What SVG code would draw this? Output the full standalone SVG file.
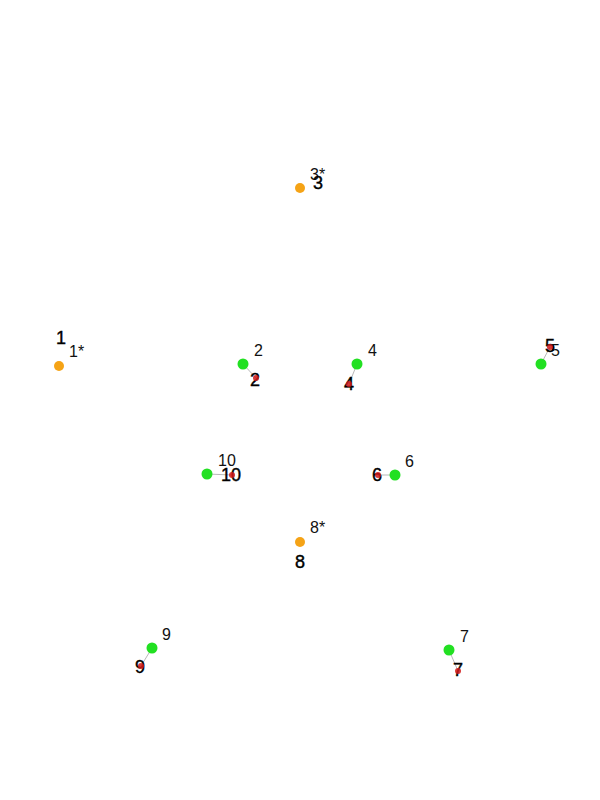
<svg xmlns="http://www.w3.org/2000/svg" width="600" height="800" viewBox="0 0 600 800">
<style>
.bg{fill:#ffffff}
.g{fill:#22e022}
.o{fill:#f5a316}
.r{fill:#d01818;opacity:0.85}
.lk{stroke:#b8b8b8;stroke-width:1;fill:none}
.t{font-family:"Liberation Sans",Arial,sans-serif;font-size:16px;fill:#111}
.b{font-family:"Liberation Sans",Arial,sans-serif;font-size:18px;fill:#000;stroke:#000;stroke-width:0.4;text-anchor:middle}
</style>
<rect class="bg" x="0" y="0" width="600" height="800"/>
<g id="connectors">
<line class="lk" x1="243" y1="364" x2="256" y2="378"/>
<line class="lk" x1="357" y1="364" x2="349" y2="384"/>
<line class="lk" x1="541" y1="364" x2="550" y2="347"/>
<line class="lk" x1="207" y1="474" x2="232" y2="475"/>
<line class="lk" x1="395" y1="475" x2="378" y2="475"/>
<line class="lk" x1="152" y1="648" x2="141" y2="666"/>
<line class="lk" x1="449" y1="650" x2="458" y2="671"/>
</g>
<g id="node-1">
<circle class="o" cx="59" cy="366" r="5"/>
<text class="t" x="69" y="357">1*</text>
<text class="b" x="61" y="344">1</text>
</g>
<g id="node-3">
<circle class="o" cx="300" cy="188" r="5"/>
<text class="t" x="310" y="180">3*</text>
<text class="b" x="318" y="189">3</text>
</g>
<g id="node-8">
<circle class="o" cx="300" cy="542" r="5"/>
<text class="t" x="310" y="533">8*</text>
<text class="b" x="300" y="568">8</text>
</g>
<g id="node-2">
<circle class="g" cx="243" cy="364" r="5.5"/>
<text class="t" x="254" y="356">2</text>
<text class="b" x="255" y="386">2</text>
<circle class="r" cx="256" cy="378" r="3"/>
</g>
<g id="node-4">
<circle class="g" cx="357" cy="364" r="5.5"/>
<text class="t" x="368" y="356">4</text>
<text class="b" x="349" y="390">4</text>
<circle class="r" cx="349" cy="384" r="3"/>
</g>
<g id="node-5">
<circle class="g" cx="541" cy="364" r="5.5"/>
<text class="t" x="551" y="356">5</text>
<text class="b" x="550" y="352">5</text>
<circle class="r" cx="550" cy="347" r="3"/>
</g>
<g id="node-10">
<circle class="g" cx="207" cy="474" r="5.5"/>
<text class="t" x="218" y="466">10</text>
<text class="b" x="231" y="481">10</text>
<circle class="r" cx="232" cy="475" r="3"/>
</g>
<g id="node-6">
<circle class="g" cx="395" cy="475" r="5.5"/>
<text class="t" x="405" y="467">6</text>
<text class="b" x="377" y="481">6</text>
<circle class="r" cx="378" cy="475" r="3"/>
</g>
<g id="node-9">
<circle class="g" cx="152" cy="648" r="5.5"/>
<text class="t" x="162" y="640">9</text>
<text class="b" x="140" y="673">9</text>
<circle class="r" cx="141" cy="666" r="3"/>
</g>
<g id="node-7">
<circle class="g" cx="449" cy="650" r="5.5"/>
<text class="t" x="460" y="642">7</text>
<text class="b" x="458" y="676">7</text>
<circle class="r" cx="458" cy="671" r="3"/>
</g>
</svg>
